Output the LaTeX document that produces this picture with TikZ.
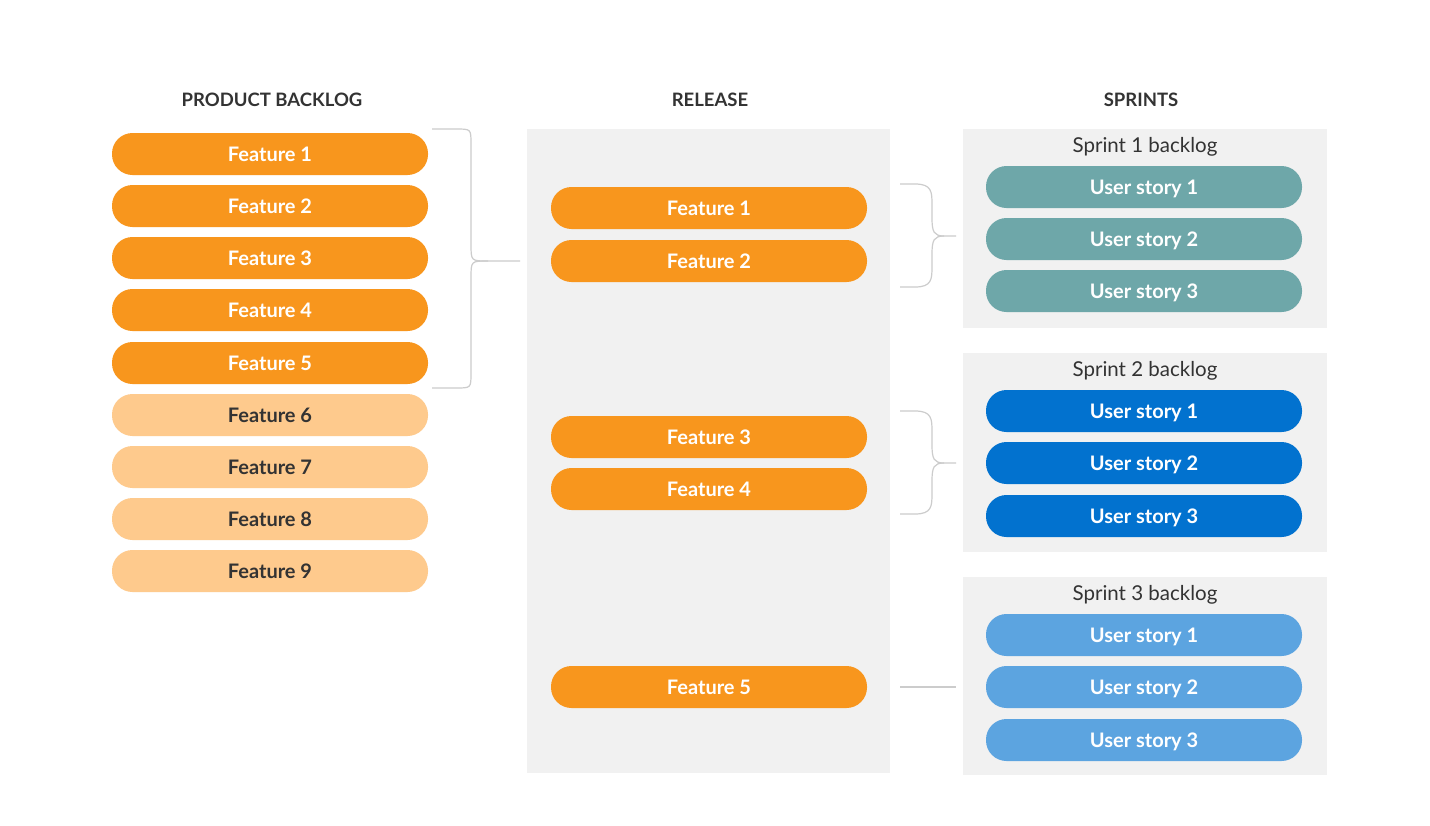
\documentclass[tikz,border=0pt]{standalone}
\usepackage{fontspec}
\setmainfont{Lato}
\definecolor{orA}{HTML}{F8961D}
\definecolor{orL}{HTML}{FECA8D}
\definecolor{teal}{HTML}{6EA7A9}
\definecolor{blueD}{HTML}{0272CF}
\definecolor{blueL}{HTML}{5CA4E0}
\definecolor{panel}{HTML}{F1F1F1}
\definecolor{txt}{HTML}{333333}
\definecolor{brk}{HTML}{CCCCCC}
\begin{document}
\begin{tikzpicture}[x=1pt,y=-1pt,
  pill/.style={rounded corners=20.5pt,minimum width=316pt,minimum height=42pt,inner sep=0pt,text height=14.3pt,text depth=0pt,font=\fontsize{20}{22}\selectfont\bfseries,text=white},
  fo/.style={pill,fill=orA},
  fl/.style={pill,fill=orL,text=txt},
  ut/.style={pill,fill=teal},
  ub/.style={pill,fill=blueD},
  ul/.style={pill,fill=blueL},
  hdr/.style={font=\fontsize{18.5}{20}\selectfont\bfseries,text=txt},
  sub/.style={font=\fontsize{20.5}{22}\selectfont,text=txt},
  brace/.style={draw=brk,line width=1.2pt}]
\useasboundingbox (0,0) rectangle (1430,825);
\fill[white] (0,0) rectangle (1430,825);
% panels
\fill[panel] (527,129) rectangle (890,773);
\fill[panel] (963,129) rectangle (1327,328);
\fill[panel] (963,353) rectangle (1327,552);
\fill[panel] (963,577) rectangle (1327,775);
% headers
\node[hdr] (h1) at (272,100) {PRODUCT BACKLOG};
\node[hdr] (h2) at (710,100) {RELEASE};
\node[hdr] (h3) at (1141,100) {SPRINTS};
% backlog
\node[fo] (b1) at (270,154) {Feature 1};
\node[fo] (b2) at (270,206) {Feature 2};
\node[fo] (b3) at (270,258) {Feature 3};
\node[fo] (b4) at (270,310) {Feature 4};
\node[fo] (b5) at (270,363) {Feature 5};
\node[fl] (b6) at (270,415) {Feature 6};
\node[fl] (b7) at (270,467) {Feature 7};
\node[fl] (b8) at (270,519) {Feature 8};
\node[fl] (b9) at (270,571) {Feature 9};
% release
\node[fo] (r1) at (709,208) {Feature 1};
\node[fo] (r2) at (709,261) {Feature 2};
\node[fo] (r3) at (709,437) {Feature 3};
\node[fo] (r4) at (709,489) {Feature 4};
\node[fo] (r5) at (709,687) {Feature 5};
% sprints
\node[sub] (s1) at (1145,147) {Sprint 1 backlog};
\node[ut] (u11) at (1144,187) {User story 1};
\node[ut] (u12) at (1144,239) {User story 2};
\node[ut] (u13) at (1144,291) {User story 3};
\node[sub] (s2) at (1145,371) {Sprint 2 backlog};
\node[ub] (u21) at (1144,411) {User story 1};
\node[ub] (u22) at (1144,463) {User story 2};
\node[ub] (u23) at (1144,516) {User story 3};
\node[sub] (s3) at (1145,595) {Sprint 3 backlog};
\node[ul] (u31) at (1144,635) {User story 1};
\node[ul] (u32) at (1144,687) {User story 2};
\node[ul] (u33) at (1144,740) {User story 3};
% braces
\coordinate (A1) at (432,129);
\coordinate (A2) at (432,388);
\coordinate (Am) at (520,261);
\draw[brace] (A1) -- (456,129) .. controls (471,129) .. (471,144) -- (471,244)
  .. controls (471,261) .. (488,261) -- (Am);
\draw[brace] (A2) -- (456,388) .. controls (471,388) .. (471,373) -- (471,278)
  .. controls (471,261) .. (488,261);
\coordinate (B1) at (900,184);
\coordinate (B2) at (900,287);
\coordinate (Bm) at (956,236);
\draw[brace] (B1) -- (915,184) .. controls (932,184) and (932,192) .. (932,205) -- (932,218)
  .. controls (932,232) and (934,236) .. (944,236) -- (Bm);
\draw[brace] (B2) -- (915,287) .. controls (932,287) and (932,279) .. (932,266) -- (932,254)
  .. controls (932,240) and (934,236) .. (944,236);
\coordinate (C1) at (900,411);
\coordinate (C2) at (900,514);
\coordinate (Cm) at (956,463);
\draw[brace] (C1) -- (915,411) .. controls (932,411) and (932,419) .. (932,432) -- (932,445)
  .. controls (932,459) and (934,463) .. (944,463) -- (Cm);
\draw[brace] (C2) -- (915,514) .. controls (932,514) and (932,506) .. (932,493) -- (932,481)
  .. controls (932,467) and (934,463) .. (944,463);
\coordinate (D1) at (900,687);
\coordinate (D2) at (956,687);
\draw[brace] (D1) -- (D2);
\end{tikzpicture}
\end{document}
